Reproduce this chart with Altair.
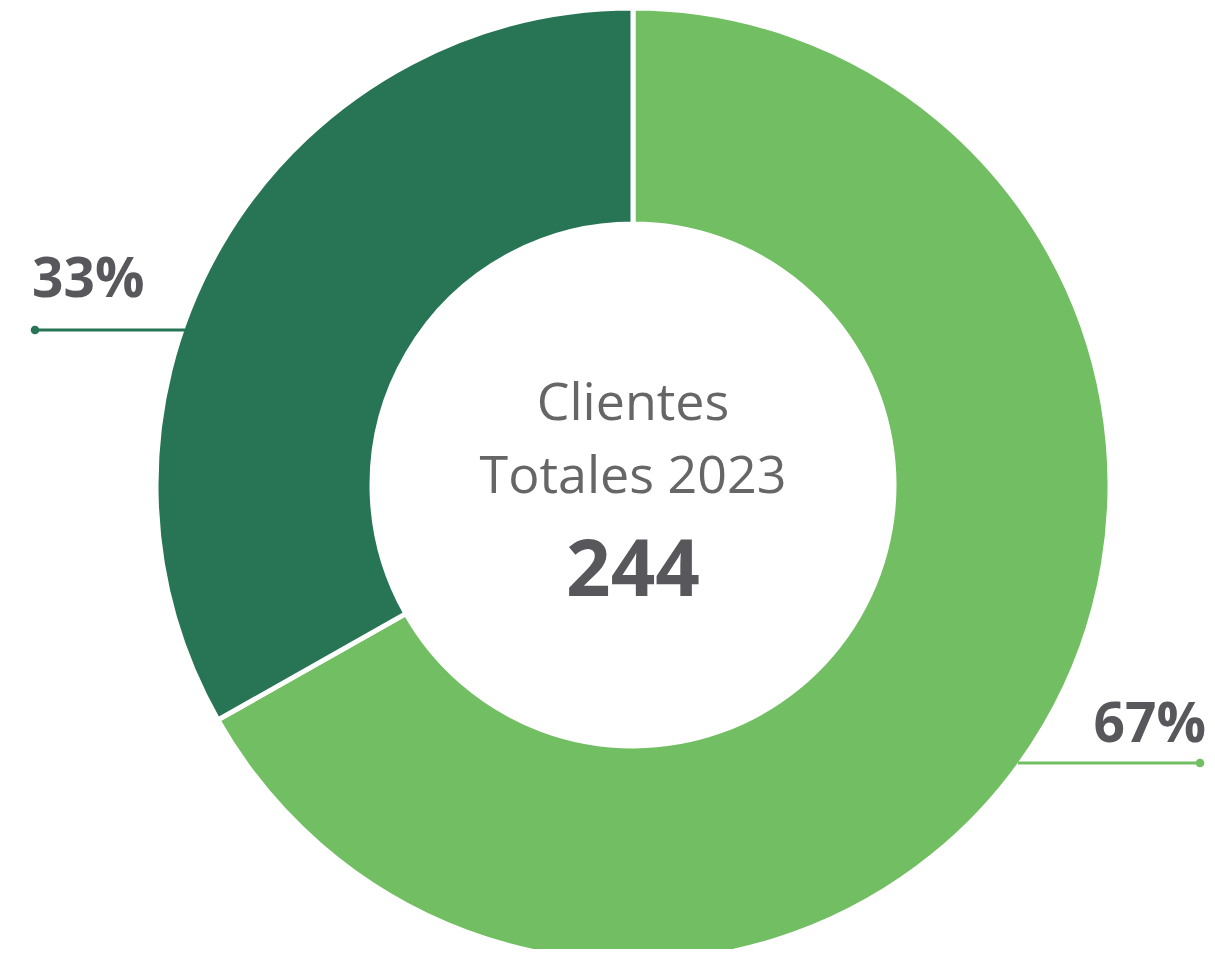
import altair as alt
import pandas as pd

# Data
categories = ["Grupo 1", "Grupo 2"]
values = [163, 81]
colors = ["#72BE62", "#277554"]
center_lines = ["Clientes", "Totales 2023"]
total_label = str(sum(values))

total = sum(values)
pcts = [f"{round(v / total * 100)}%" for v in values]

df = pd.DataFrame({"cat": categories, "value": values, "order": [0, 1]})

W, H = 1199, 941
CX, CY = 625, 477
R_OUT, R_IN = 477, 261

arcs = alt.Chart(df).mark_arc(
    radius=R_OUT, radius2=R_IN, stroke="white", strokeWidth=5
).encode(
    theta=alt.Theta("value:Q", stack=True),
    order=alt.Order("order:Q"),
    color=alt.Color("cat:N", scale=alt.Scale(domain=categories, range=colors), legend=None),
    x=alt.value(CX),
    y=alt.value(CY),
)

base = alt.Chart(pd.DataFrame({"a": [0]}))

def rule(x1, x2, y, col):
    return base.mark_rule(color=col, strokeWidth=3).encode(
        x=alt.value(x1), x2=alt.value(x2), y=alt.value(y)
    )

def dot(x, y, col):
    return base.mark_point(filled=True, color=col, size=75, opacity=1).encode(
        x=alt.value(x), y=alt.value(y)
    )

def txt(s, x, y, size, weight, col, align="center"):
    return base.mark_text(
        text=s, font="Open Sans", fontSize=size, fontWeight=weight, color=col,
        align=align, baseline="alphabetic"
    ).encode(x=alt.value(x), y=alt.value(y))

layers = [
    arcs,
    rule(27, 177, 322, colors[1]), dot(27, 322, colors[1]),
    rule(1010, 1192, 755, colors[0]), dot(1192, 755, colors[0]),
    txt(pcts[1], 24, 289, 55, "bold", "#58585c", "left"),
    txt(pcts[0], 1198, 734, 55, "bold", "#58585c", "right"),
    txt(center_lines[0], CX, 412, 52, "normal", "#666666"),
    txt(center_lines[1], CX, 485, 52, "normal", "#666666"),
    txt(total_label, CX, 588, 78, "bold", "#58585c"),
]

chart = alt.layer(*layers).properties(
    width=W, height=H, padding=0, autosize=alt.AutoSizeParams(type="none")
).configure_view(stroke=None)

chart.save("out.html", embed_options={"renderer": "svg", "actions": False})
